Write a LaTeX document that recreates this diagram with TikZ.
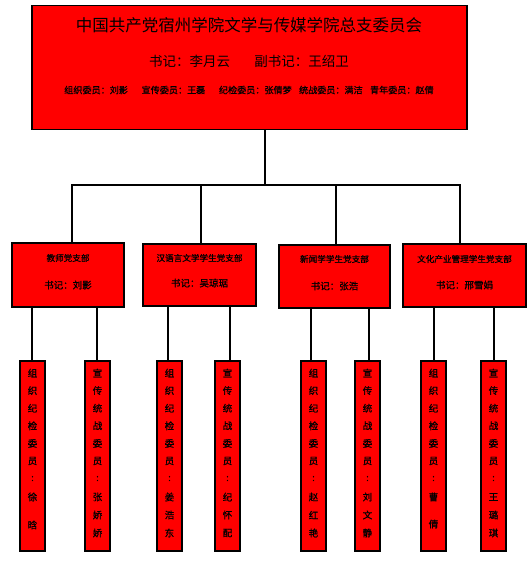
\documentclass[tikz,border=0pt]{standalone}
\usepackage{fontspec}
\setmainfont{Noto Sans CJK SC}
\newfontfamily\heavy{Noto Sans CJK SC}[FakeBold=0.8]
\tikzset{
  box/.style={draw=black, line width=1.9pt, fill=red, inner sep=0pt},
  ln/.style={draw=black, line width=2pt},
  vt/.style={font=\heavy\fontsize{9.5}{10}\selectfont, inner sep=0pt},
  bt/.style={font=\heavy\fontsize{8.6}{10}\selectfont, inner sep=0pt},
  bs/.style={font=\heavy\fontsize{9.5}{10}\selectfont, inner sep=0pt},
}
\begin{document}
\begin{tikzpicture}[x=1pt,y=-1pt]
\useasboundingbox (0,0) rectangle (528,579);
% top box
\node[box, minimum width=435pt, minimum height=124pt] (top) at (249.5,67.5) {};
\node[inner sep=0pt, font=\fontsize{16.5}{17}\selectfont] (t1) at (249,25) {中国共产党宿州学院文学与传媒学院总支委员会};
\node[inner sep=0pt, font=\fontsize{13.5}{14}\selectfont] (t2) at (249,61) {书记：李月云\hspace{1.8em}副书记：王绍卫};
\node[inner sep=0pt, font=\heavy\fontsize{9.1}{10}\selectfont] (t3) at (249,90) {组织委员：刘影\hspace{1.5em}宣传委员：王磊\hspace{1.5em}纪检委员：张倩梦\hspace{0.8em}统战委员：满洁\hspace{0.8em}青年委员：赵倩};
% branch boxes
\node[box, minimum width=112pt, minimum height=64pt] (b1) at (68,275) {};
\node[box, minimum width=113pt, minimum height=62pt] (b2) at (199.5,275) {};
\node[box, minimum width=111pt, minimum height=63pt] (b3) at (334.5,276.5) {};
\node[box, minimum width=123pt, minimum height=63pt] (b4) at (464.5,275.5) {};
\node[bt] (b1t) at (68,258) {教师党支部};
\node[bs] (b1s) at (68,285) {书记：刘影};
\node[bt] (b2t) at (199.5,258) {汉语言文学学生党支部};
\node[bs] (b2s) at (199.5,283) {书记：吴琼琚};
\node[bt] (b3t) at (334.5,259) {新闻学学生党支部};
\node[bs] (b3s) at (334.5,286) {书记：张浩};
\node[bt] (b4t) at (464.5,259) {文化产业管理学生党支部};
\node[bs] (b4s) at (464.5,285) {书记：邢雪娟};
% connectors top
\coordinate (hub) at (265,185);
\draw[ln] (top.south -| hub) -- (hub);
\draw[ln] ([xshift=4pt]b1.north) |- (hub) -| ([xshift=-4.5pt]b4.north);
\draw[ln] ([xshift=1.5pt]b2.north) -- ([xshift=1.5pt]b2.north |- hub);
\draw[ln] ([xshift=1.5pt]b3.north) -- ([xshift=1.5pt]b3.north |- hub);
% vertical boxes
\foreach \n/\x/\lx in {c1a/32.5/32, c1b/97.5/97, c2a/169.5/168, c2b/227.5/230, c3a/313.5/311, c3b/367.5/369, c4a/433.5/434, c4b/493.5/494}{
  \node[box, minimum width=25pt, minimum height=190pt] (\n) at (\x,456) {};
  \coordinate (\n-in) at (\lx,361);
}
\foreach \b/\l/\r in {b1/c1a/c1b, b2/c2a/c2b, b3/c3a/c3b, b4/c4a/c4b}{
  \draw[ln] (\b.south -| \l-in) -- (\l-in);
  \draw[ln] (\b.south -| \r-in) -- (\r-in);
}
% vertical texts: roles
\foreach \n in {c1a, c2a, c3a, c4a}{
  \foreach \c [count=\i] in {组,织,纪,检,委,员,:}{
    \node[vt] (\n-r\i) at ([yshift=-(373+(\i-1)*17.6)*1pt+456pt]\n.center) {\c};
  }
}
\foreach \n in {c1b, c2b, c3b, c4b}{
  \foreach \c [count=\i] in {宣,传,统,战,委,员,:}{
    \node[vt] (\n-r\i) at ([yshift=-(373+(\i-1)*17.6)*1pt+456pt]\n.center) {\c};
  }
}
% names
\foreach \n/\c/\yy in {c1a/徐/497, c1a/晗/525, c1b/张/497, c1b/娇/515, c1b/娇/533,
  c2a/姜/497, c2a/浩/515, c2a/东/533, c2b/纪/497, c2b/怀/515, c2b/配/533,
  c3a/赵/497, c3a/红/515, c3a/艳/533, c3b/刘/497, c3b/文/515, c3b/静/533,
  c4a/曹/497, c4a/倩/524, c4b/王/497, c4b/璐/515, c4b/琪/533}{
  \node[vt] (\n-\yy) at ([yshift=-\yy pt+456pt]\n.center) {\c};
}
\end{tikzpicture}
\end{document}
